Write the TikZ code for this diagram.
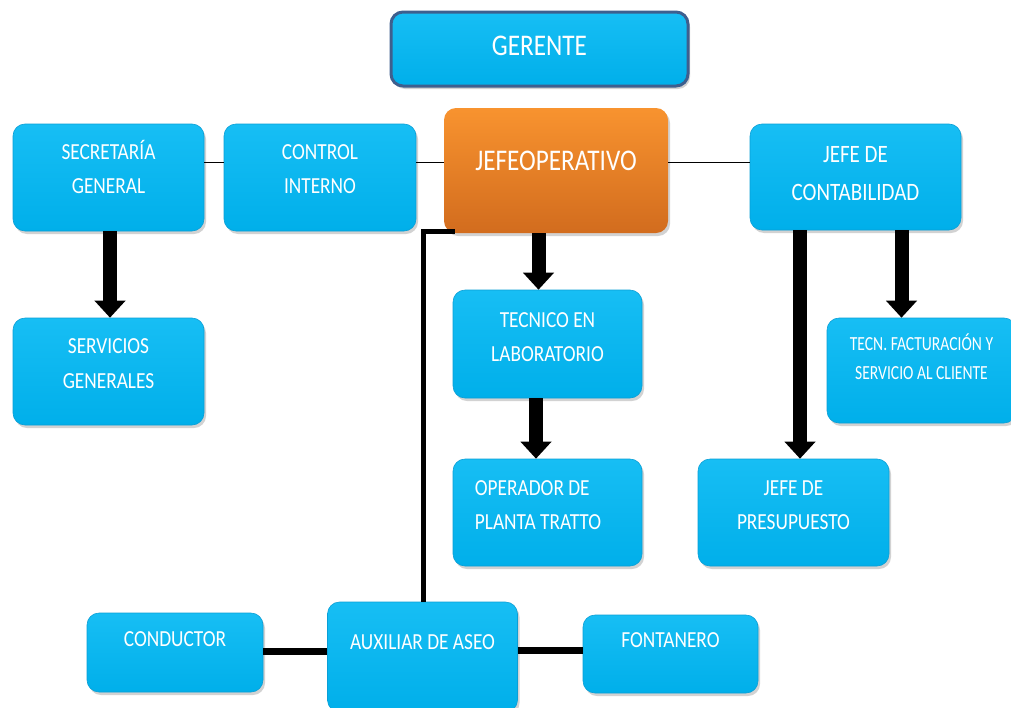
\documentclass[tikz,border=0pt]{standalone}
\usepackage{fontspec}
\setmainfont{Carlito}[FakeStretch=0.84]
\newfontfamily\narrowfont{Carlito}[FakeStretch=0.78]
\usetikzlibrary{arrows.meta,shadows}
\definecolor{cyantop}{HTML}{17BEF4}
\definecolor{cyanbot}{HTML}{00AFEA}
\definecolor{cyanedge}{HTML}{0A9FD6}
\definecolor{gerborder}{HTML}{3E5F8E}
\definecolor{orangetop}{HTML}{F8932F}
\definecolor{orangebot}{HTML}{D26C1E}
\newcommand{\lns}[2]{\begin{tabular}{@{}c@{}}#2\\[#1]\end{tabular}}
\tikzset{
  boxshadow/.style={drop shadow={shadow xshift=2pt,shadow yshift=-3pt,opacity=0.35}},
  cyanbox/.style={rectangle, rounded corners=12pt, inner sep=0pt, text=white,
    top color=cyantop, bottom color=cyanbot, draw=cyanedge, line width=0.6pt,
    boxshadow, font=\fontsize{23}{34}\selectfont},
  bigarrow/.style={line width=14pt, -{Triangle[width=30pt,length=17pt]}},
  thinline/.style={line width=1pt, black},
  thickline/.style={line width=7pt, black},
  stemline/.style={line width=4.5pt, black, line join=miter}
}
\begin{document}
\begin{tikzpicture}[x=1pt,y=-1pt]
\useasboundingbox[fill=white] (0,0) rectangle (1011,707);
% boxes
\node[cyanbox, draw=gerborder, line width=3pt, font=\fontsize{30}{36}\selectfont,
  minimum width=297pt, minimum height=74pt] (ger) at (539.5,49) {\lns{2pt}{GERENTE}};
\node[cyanbox, minimum width=191pt, minimum height=107pt] (sec) at (108.5,177.5)
  {\lns{15pt}{SECRETARÍA\\GENERAL}};
\node[cyanbox, minimum width=192pt, minimum height=107pt] (ctl) at (320,177.5)
  {\lns{15pt}{CONTROL\\INTERNO}};
\node[cyanbox, draw=none, top color=orangetop, bottom color=orangebot,
  font=\fontsize{30}{36}\selectfont,
  minimum width=224pt, minimum height=125pt] (jop) at (556,170.5) {\lns{15pt}{JEFEOPERATIVO}};
\node[cyanbox, font=\fontsize{25}{38}\selectfont,
  minimum width=211pt, minimum height=106pt] (cont) at (855.5,177)
  {\lns{6pt}{JEFE DE\\CONTABILIDAD}};
\node[cyanbox, minimum width=191pt, minimum height=107pt] (serv) at (108.5,371.5)
  {\begin{tabular}{@{}c@{}}SERVICIOS\\[1pt]GENERALES\\[14pt]\end{tabular}};
\node[cyanbox, minimum width=189pt, minimum height=108pt] (tec) at (547.5,344)
  {\lns{13pt}{TECNICO EN\\LABORATORIO}};
\node[cyanbox, minimum width=189pt, minimum height=107pt] (ope) at (547.5,512.5)
  {\begin{tabular}{@{}l@{\hspace{19pt}}}OPERADOR DE\\PLANTA TRATTO\\[14pt]\end{tabular}};
\node[cyanbox, font=\narrowfont\fontsize{20}{29}\selectfont,
  minimum width=189pt, minimum height=105pt] (fac) at (921.5,370.5)
  {\lns{22pt}{TECN. FACTURACIÓN Y\\SERVICIO AL CLIENTE}};
\node[cyanbox, minimum width=191pt, minimum height=107pt] (pres) at (793.5,512.5)
  {\lns{14pt}{JEFE DE\\PRESUPUESTO}};
\node[cyanbox, minimum width=176pt, minimum height=79pt] (cond) at (175,652.5)
  {\lns{25pt}{CONDUCTOR}};
\node[cyanbox, minimum width=190pt, minimum height=110pt] (aux) at (422.5,657)
  {\lns{28pt}{AUXILIAR DE ASEO}};
\node[cyanbox, minimum width=175pt, minimum height=78pt] (fon) at (670.5,654)
  {\lns{26pt}{FONTANERO}};
% thin connectors
\draw[thinline] ([yshift=15.5pt]sec.east) -- ([yshift=15.5pt]ctl.west);
\draw[thinline] ([yshift=15.5pt]ctl.east) -- ([yshift=8.5pt]jop.west);
\draw[thinline] ([yshift=8.5pt]jop.east) -- ([yshift=15pt]cont.west);
% thick arrows
\draw[bigarrow] ([xshift=1.5pt]sec.south) -- ([xshift=1.5pt]serv.north);
\draw[bigarrow] ([xshift=-17.5pt]jop.south) -- ([xshift=-9pt]tec.north);
\draw[bigarrow] ([xshift=-11.5pt]tec.south) -- ([xshift=-11.5pt]ope.north);
\draw[bigarrow] ([xshift=-55.5pt]cont.south) -- ([xshift=6.5pt]pres.north);
\draw[bigarrow] ([xshift=46pt]cont.south) -- ([xshift=-20pt]fac.north);
% stem to auxiliar
\draw[stemline] ([xshift=11pt,yshift=2pt]jop.south west) -| ([xshift=1pt]aux.north);
% bottom connectors
\coordinate (cy) at ([yshift=1pt]cond.east);
\coordinate (fy) at ([yshift=4pt]fon.west);
\draw[thickline] (cy) -- (cy -| aux.west);
\draw[thickline] (aux.east |- fy) -- (fy);
\end{tikzpicture}
\end{document}
